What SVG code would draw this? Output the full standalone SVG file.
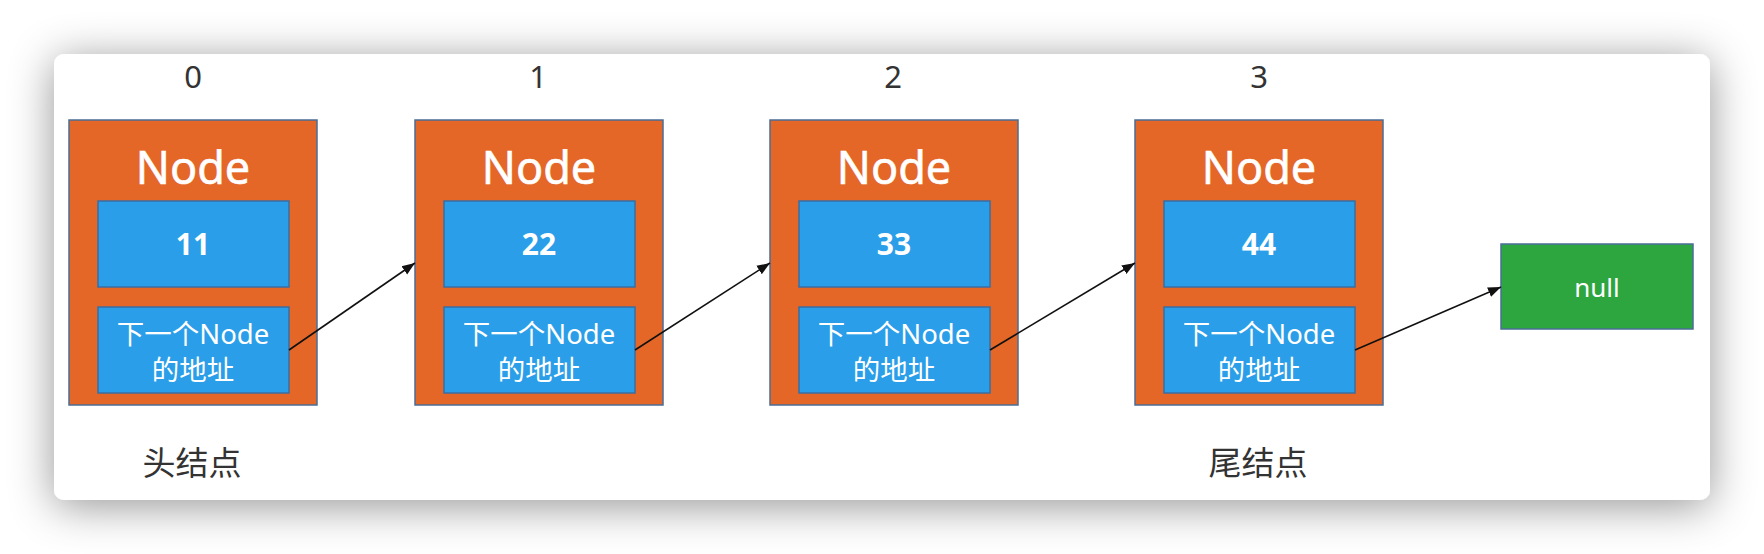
<svg xmlns="http://www.w3.org/2000/svg" width="1764" height="554" viewBox="0 0 1764 554">
  <defs>
    <filter id="shadow" x="-10%" y="-40%" width="120%" height="180%">
      <feDropShadow dx="0" dy="6" stdDeviation="22" flood-color="#000" flood-opacity="0.42"/>
    </filter>
    <marker id="arrow" markerUnits="userSpaceOnUse" markerWidth="14" markerHeight="12" refX="13" refY="6" orient="auto">
      <path d="M0,1 L13,6 L0,11 Z" fill="#111"/>
    </marker>
    <style>
      .outer { fill: #E46728; stroke: #4A6E96; stroke-width: 1.5; }
      .inner { fill: #2A9EE8; stroke: #3A6EA0; stroke-width: 1.5; }
      .nullbox { fill: #2EA640; stroke: #4A6E96; stroke-width: 1.5; }
      .title { font-family: "Noto Sans", "Open Sans", "Noto Sans CJK SC", sans-serif; font-size: 45px; fill: #fff; text-anchor: middle; stroke: #fff; stroke-width: 0.6; }
      .val { font-family: "Noto Sans", "Open Sans", sans-serif; font-size: 30px; font-weight: bold; fill: #fff; text-anchor: middle; }
      .addr { font-family: "Noto Sans", "Noto Sans CJK SC", sans-serif; font-size: 27.5px; fill: #fff; text-anchor: middle; }
      .idx { font-family: "Noto Sans", "Open Sans", sans-serif; font-size: 31px; fill: #333; text-anchor: middle; }
      .cap { font-family: "Noto Sans CJK SC", "Noto Sans", sans-serif; font-size: 33px; fill: #333; text-anchor: middle; }
      .nulltxt { font-family: "Noto Sans", "Open Sans", sans-serif; font-size: 26px; fill: #fff; text-anchor: middle; }
      .conn { stroke: #111; stroke-width: 1.6; fill: none; marker-end: url(#arrow); }
    </style>
  </defs>

  <rect x="0" y="0" width="1764" height="554" fill="#ffffff"/>
  <rect x="54" y="54" width="1656" height="446" rx="10" ry="10" fill="#ffffff" filter="url(#shadow)"/>

  <text class="idx" x="193" y="88">0</text>
  <text class="idx" x="538" y="88">1</text>
  <text class="idx" x="893" y="88">2</text>
  <text class="idx" x="1259" y="88">3</text>

  <g id="node0">
    <rect class="outer" x="69" y="120" width="248" height="285"/>
    <text class="title" x="193" y="184">Node</text>
    <rect class="inner" x="98" y="201" width="191" height="86"/>
    <text class="val" x="193" y="255">11</text>
    <rect class="inner" x="98" y="307" width="191" height="86"/>
    <text class="addr" x="193" y="344">下一个Node</text>
    <text class="addr" x="193" y="380">的地址</text>
  </g>

  <g id="node1">
    <rect class="outer" x="415" y="120" width="248" height="285"/>
    <text class="title" x="539" y="184">Node</text>
    <rect class="inner" x="444" y="201" width="191" height="86"/>
    <text class="val" x="539" y="255">22</text>
    <rect class="inner" x="444" y="307" width="191" height="86"/>
    <text class="addr" x="539" y="344">下一个Node</text>
    <text class="addr" x="539" y="380">的地址</text>
  </g>

  <g id="node2">
    <rect class="outer" x="770" y="120" width="248" height="285"/>
    <text class="title" x="894" y="184">Node</text>
    <rect class="inner" x="799" y="201" width="191" height="86"/>
    <text class="val" x="894" y="255">33</text>
    <rect class="inner" x="799" y="307" width="191" height="86"/>
    <text class="addr" x="894" y="344">下一个Node</text>
    <text class="addr" x="894" y="380">的地址</text>
  </g>

  <g id="node3">
    <rect class="outer" x="1135" y="120" width="248" height="285"/>
    <text class="title" x="1259" y="184">Node</text>
    <rect class="inner" x="1164" y="201" width="191" height="86"/>
    <text class="val" x="1259" y="255">44</text>
    <rect class="inner" x="1164" y="307" width="191" height="86"/>
    <text class="addr" x="1259" y="344">下一个Node</text>
    <text class="addr" x="1259" y="380">的地址</text>
  </g>

  <g id="nullnode">
    <rect class="nullbox" x="1501" y="244" width="192" height="85"/>
    <text class="nulltxt" x="1597" y="297">null</text>
  </g>

  <g id="head-label">
    <text class="cap" x="192" y="475">头结点</text>
  </g>
  <g id="tail-label">
    <text class="cap" x="1258" y="475">尾结点</text>
  </g>

  <g id="connectors">
    <line class="conn" x1="289" y1="350" x2="415" y2="263"/>
    <line class="conn" x1="635" y1="350" x2="770" y2="263"/>
    <line class="conn" x1="990" y1="350" x2="1135" y2="263"/>
    <line class="conn" x1="1355" y1="350" x2="1501" y2="287"/>
  </g>
</svg>
